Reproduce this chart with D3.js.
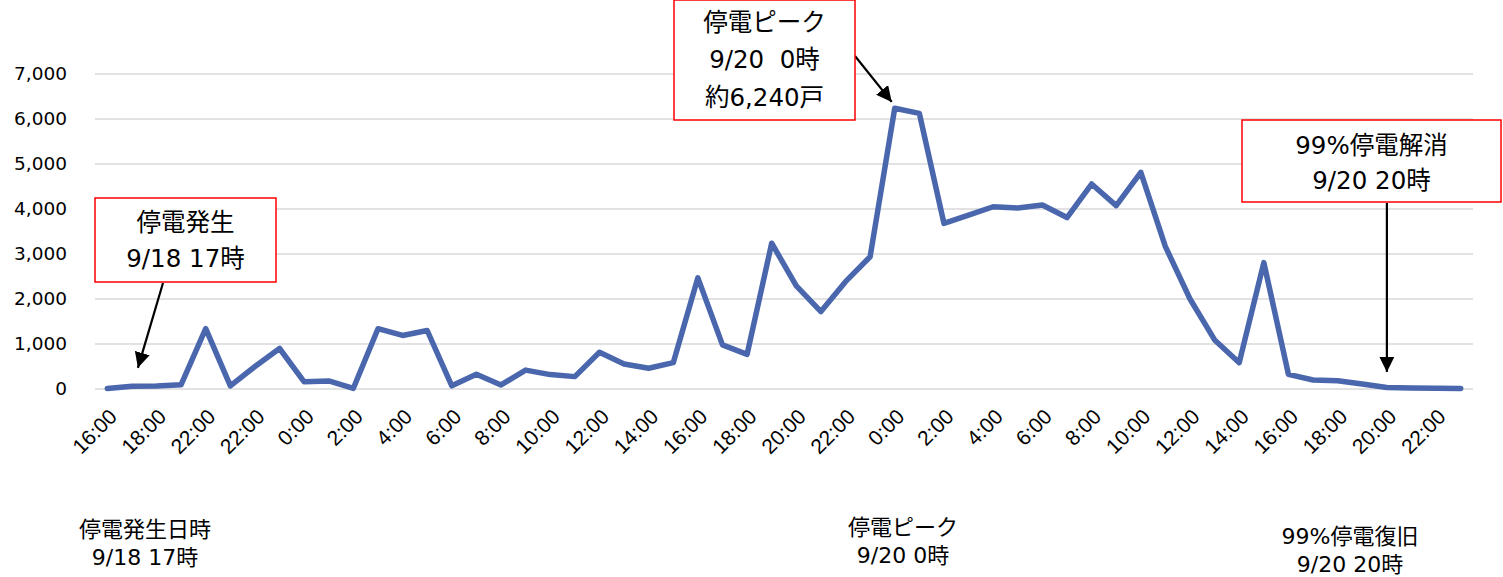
<!DOCTYPE html>
<html>
<head>
<meta charset="utf-8">
<script src="https://cdn.jsdelivr.net/npm/d3@7"></script>
<style>
  body { margin: 0; background: #fff; }
  svg { display: block; }
  .jp { font-family: "DejaVu Sans", "Noto Sans CJK JP", sans-serif; fill: #000; }
</style>
</head>
<body>
<script>
// hourly outage counts (households), 9/18 16:00 -> 9/20 23:00
const outages = [10, 60, 65, 95, 1340, 70, 500, 900, 160, 180,
  15, 1340, 1190, 1300, 70, 330, 90, 420, 320, 275,
  815, 555, 460, 585, 2470, 980, 770, 3240, 2290, 1720,
  2385, 2940, 6240, 6125, 3680, 3865, 4050, 4020, 4090, 3810,
  4555, 4075, 4815, 3165, 2000, 1090, 585, 2810, 325, 200,
  185, 110, 35, 20, 15, 10];

// labels shown on every second category
const tickLabels = ["16:00", "18:00", "22:00", "22:00", "0:00", "2:00", "4:00",
  "6:00", "8:00", "10:00", "12:00", "14:00", "16:00", "18:00", "20:00", "22:00",
  "0:00", "2:00", "4:00", "6:00", "8:00", "10:00", "12:00", "14:00", "16:00",
  "18:00", "20:00", "22:00"];

const yTicks = [0, 1000, 2000, 3000, 4000, 5000, 6000, 7000];

// callout boxes on the chart
const callouts = [
  { lines: ["停電発生", "9/18 17時"], target: 1, targetValue: 470 },
  { lines: ["停電ピーク", "9/20\u00a0\u00a00時", "約6,240戸"], target: 32, targetValue: 6380 },
  { lines: ["99%停電解消", "9/20 20時"], target: 52, targetValue: 380 }
];

// notes under the axis
const notes = [
  ["停電発生日時", "9/18 17時"],
  ["停電ピーク", "9/20 0時"],
  ["99%停電復旧", "9/20 20時"]
];

const width = 1503, height = 577;

const svg = d3.select("body").append("svg")
  .attr("width", width)
  .attr("height", height);

const x = d3.scaleBand()
  .domain(d3.range(outages.length))
  .range([95, 1473]);

const y = d3.scaleLinear()
  .domain([0, 7000])
  .range([389, 74]);

const cx = i => x(i) + x.bandwidth() / 2;

// gridlines
svg.append("g")
  .selectAll("line")
  .data(yTicks)
  .join("line")
  .attr("x1", 95).attr("x2", 1473)
  .attr("y1", d => y(d)).attr("y2", d => y(d))
  .attr("stroke", "#d9d9d9")
  .attr("stroke-width", 1.5);

// y axis
const yAxis = svg.append("g")
  .attr("transform", "translate(79,0)")
  .call(d3.axisLeft(y).tickValues(yTicks).tickFormat(d3.format(",")).tickSize(0).tickPadding(12));
yAxis.select(".domain").remove();
yAxis.selectAll("text")
  .style("font-family", "DejaVu Sans, Verdana, sans-serif")
  .style("font-size", "18.5px")
  .attr("fill", "#000");

// x axis
const xAxis = svg.append("g")
  .attr("transform", "translate(0,389)")
  .call(d3.axisBottom(x)
    .tickValues(d3.range(0, outages.length, 2))
    .tickFormat(i => tickLabels[i / 2])
    .tickSize(0));
xAxis.select(".domain").remove();
xAxis.selectAll("text")
  .style("font-family", "Liberation Sans, Arial, sans-serif")
  .style("font-size", "21px")
  .attr("fill", "#000")
  .attr("text-anchor", "end")
  .attr("dy", null)
  .attr("y", 0)
  .attr("transform", "translate(11,29) rotate(-45)");

// line
svg.append("path")
  .datum(outages)
  .attr("fill", "none")
  .attr("stroke", "#4a67ae")
  .attr("stroke-width", 5.5)
  .attr("stroke-linejoin", "round")
  .attr("stroke-linecap", "round")
  .attr("d", d3.line().x((d, i) => cx(i)).y(d => y(d)));

// arrow head
svg.append("defs").append("marker")
  .attr("id", "head")
  .attr("viewBox", "0 0 10 10")
  .attr("refX", 10).attr("refY", 5)
  .attr("markerWidth", 7).attr("markerHeight", 7)
  .attr("markerUnits", "strokeWidth")
  .attr("orient", "auto")
  .append("path")
  .attr("d", "M0,0L10,5L0,10Z")
  .attr("fill", "#000");

// callouts: box + arrow
const boxes = [
  { x: 95, y: 198, w: 181, h: 84, lineH: 36, top: 222, from: [163, 283] },
  { x: 674, y: 0, w: 181, h: 120, lineH: 37.5, top: 22, from: [855, 56] },
  { x: 1242, y: 120, w: 259, h: 82, lineH: 35, top: 145, from: [null, 203] }
];

callouts.forEach((c, k) => {
  const b = boxes[k];
  const tx = cx(c.target) + (k === 0 ? 6 : k === 1 ? -3 : 0);
  const ty = y(c.targetValue);
  const fx = b.from[0] === null ? tx : b.from[0];
  svg.append("line")
    .attr("x1", fx).attr("y1", b.from[1])
    .attr("x2", tx).attr("y2", ty)
    .attr("stroke", "#000")
    .attr("stroke-width", 2.2)
    .attr("marker-end", "url(#head)");
  svg.append("rect")
    .attr("x", b.x).attr("y", b.y)
    .attr("width", b.w).attr("height", b.h)
    .attr("fill", "#fff")
    .attr("stroke", "#ff0000")
    .attr("stroke-width", 1.5);
  svg.append("text")
    .attr("class", "jp")
    .attr("text-anchor", "middle")
    .style("font-size", "24.5px")
    .selectAll("tspan")
    .data(c.lines)
    .join("tspan")
    .attr("x", b.x + b.w / 2)
    .attr("y", (d, i) => b.top + i * b.lineH)
    .attr("dy", "0.35em")
    .text(d => d);
});

// notes below the chart
const notePos = [[145, 529], [903, 527], [1350, 536]];
notes.forEach((n, k) => {
  svg.append("text")
    .attr("class", "jp")
    .attr("text-anchor", "middle")
    .style("font-size", "22px")
    .selectAll("tspan")
    .data(n)
    .join("tspan")
    .attr("x", notePos[k][0])
    .attr("y", (d, i) => notePos[k][1] + i * 28)
    .attr("dy", "0.35em")
    .text(d => d);
});
</script>
</body>
</html>
